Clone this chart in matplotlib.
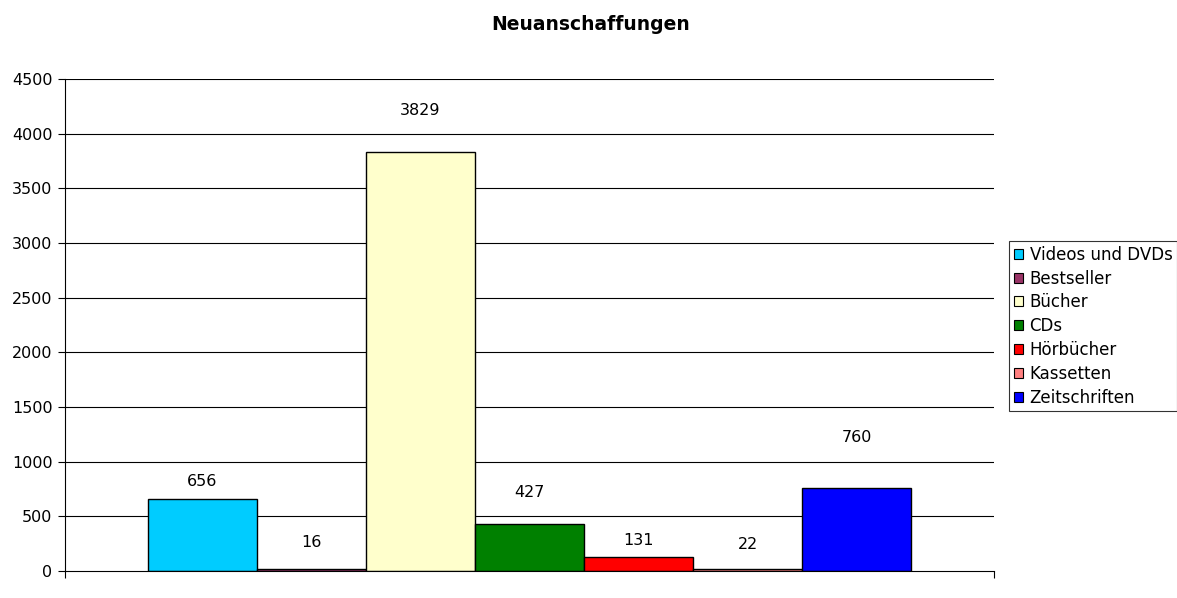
import matplotlib
matplotlib.use("Agg")
import matplotlib.pyplot as plt
from matplotlib.patches import Patch

title = "Neuanschaffungen"
series = ["Videos und DVDs", "Bestseller", "Bücher", "CDs", "Hörbücher", "Kassetten", "Zeitschriften"]
values = [656, 16, 3829, 427, 131, 22, 760]
colors = ["#00CCFF", "#993366", "#FFFFCC", "#008000", "#FF0000", "#FF8080", "#0000FF"]
yticks = [0, 500, 1000, 1500, 2000, 2500, 3000, 3500, 4000, 4500]

# label gaps above bar tops (pixels), as in the reference
label_gaps = [10, 19, 34, 24, 9, 17, 43]

plt.rcParams['font.family'] = ['DejaVu Sans']
fig = plt.figure(figsize=(11.77, 5.98), dpi=100)
ax = fig.add_axes([65/1177, 27/598, (994-65)/1177, (571-79)/598])

for i, (v, c) in enumerate(zip(values, colors)):
    ax.bar(i, v, width=1.0, color=c, edgecolor="black", linewidth=1.0, zorder=3)
    ax.annotate(str(v), xy=(i, v), xytext=(0, label_gaps[i]), textcoords="offset pixels",
                ha="center", va="bottom", fontsize=11.5, color="black", zorder=4)

ax.set_xlim(-1.26, 7.26)
ax.set_ylim(0, 4500)
ax.set_yticks(yticks)
ax.set_yticklabels([str(t) for t in yticks], fontsize=11.5)
ax.set_xticks([-1.26, 7.26])
ax.set_xticklabels([])
ax.tick_params(axis="x", length=5, width=0.8, direction="out")
ax.tick_params(axis="y", length=5, width=0.8, direction="out", pad=4)
for y in yticks[1:]:
    ax.axhline(y, color="black", linewidth=0.8, zorder=1)
ax.spines["top"].set_visible(False)
ax.spines["right"].set_visible(False)
ax.spines["left"].set_linewidth(0.8)
ax.spines["bottom"].set_linewidth(0.8)
ax.spines["bottom"].set_zorder(5)

fig.text(591/1177, 1 - 24/598, title, ha="center", va="center", fontsize=13.5, fontweight="bold")

handles = [Patch(facecolor=c, edgecolor="black", linewidth=0.8) for c in colors]
leg = fig.legend(handles, series, loc="upper left", bbox_to_anchor=(1009/1177, 1 - 241/598),
                 frameon=True, fancybox=False, fontsize=12, handlelength=0.55, handleheight=0.55,
                 handletextpad=0.4, borderpad=0.28, labelspacing=0.35, borderaxespad=0)
leg.get_frame().set_edgecolor("black")
leg.get_frame().set_linewidth(0.8)

fig.savefig("out.png", dpi=100)
